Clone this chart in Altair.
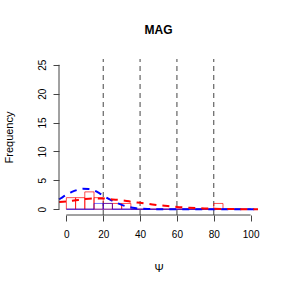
import altair as alt
import pandas as pd

# histogram bins (width 5) and counts
bin_starts = list(range(0, 100, 5))
red_counts = [2, 2, 3, 2, 1, 1, 1, 0, 0, 0, 0, 0, 0, 0, 0, 0, 1, 0, 0, 0]
blue_counts = [0, 0, 0, 1, 1, 0, 0, 0, 0, 0, 0, 0, 0, 0, 0, 0, 0, 0, 0, 0]

# dashed density curves
blue_x = [-4, -3, 0, 3, 6, 9, 12, 15, 18, 21, 24, 27, 30, 33, 36, 40, 45, 50, 104]
blue_y = [1.7, 1.9, 2.5, 3.0, 3.35, 3.55, 3.5, 3.25, 2.75, 2.15, 1.6, 1.15, 0.75, 0.45, 0.25, 0.1, 0.03, 0.0, 0.0]
red_x = [-4, 0, 5, 10, 15, 20, 25, 30, 35, 40, 45, 50, 55, 60, 65, 70, 75, 80, 90, 104]
red_y = [1.25, 1.35, 1.55, 1.75, 1.85, 1.85, 1.7, 1.55, 1.3, 1.1, 0.9, 0.7, 0.55, 0.4, 0.3, 0.2, 0.13, 0.08, 0.03, 0.0]

vlines = [20, 40, 60, 80]
x_ticks = [0, 20, 40, 60, 80, 100]
y_ticks = [0, 5, 10, 15, 20, 25]

XD = [-4, 104]
YD = [-1, 26]

red_df = pd.DataFrame({"bx": bin_starts, "bx2": [b + 5 for b in bin_starts],
                       "by0": [0] * len(bin_starts), "by": red_counts})
blue_df = pd.DataFrame({"bx": bin_starts, "bx2": [b + 5 for b in bin_starts],
                        "by0": [0] * len(bin_starts), "by": blue_counts})
bc = pd.DataFrame({"x": blue_x, "y": blue_y})
rc = pd.DataFrame({"x": red_x, "y": red_y})
vl = pd.DataFrame({"x": vlines, "y": [YD[0]] * 4, "y2": [YD[1]] * 4})
xl = pd.DataFrame({"x": [x_ticks[0]], "x2": [x_ticks[-1]], "y": [YD[0]]})
yl = pd.DataFrame({"y": [y_ticks[0]], "y2": [y_ticks[-1]], "x": [XD[0]]})

FONT = "Liberation Sans"

xscale = alt.Scale(domain=XD, nice=False, zero=False)
yscale = alt.Scale(domain=YD, nice=False, zero=False)

xaxis = alt.Axis(values=x_ticks, domain=False, grid=False, tickSize=6, tickColor="#444",
                 labelFontSize=10, labelFont=FONT, labelColor="black", labelPadding=8,
                 title="Ψ", titleFont=FONT, titleFontSize=11, titleFontWeight="normal",
                 titleColor="black", titlePadding=23)
yaxis = alt.Axis(values=y_ticks, domain=False, grid=False, tickSize=6, tickColor="#444",
                 labelFontSize=10, labelFont=FONT, labelColor="black", labelAngle=-90,
                 labelAlign="center", labelBaseline="bottom", labelPadding=6,
                 title="Frequency", titleFont=FONT, titleFontSize=11, titleFontWeight="normal",
                 titleColor="black", titlePadding=23)

X = lambda: alt.X("x:Q", scale=xscale, axis=xaxis, title="Ψ")
Y = lambda: alt.Y("y:Q", scale=yscale, axis=yaxis, title="Frequency")


def hist(df, col, op):
    base = alt.Chart(df)
    tops = base.mark_rule(color=col, strokeOpacity=op, strokeWidth=1).encode(
        x=alt.X("bx:Q", scale=xscale, axis=xaxis, title="Ψ"), x2="bx2:Q",
        y=alt.Y("by:Q", scale=yscale, axis=yaxis, title="Frequency"))
    lefts = base.mark_rule(color=col, strokeOpacity=op, strokeWidth=1).encode(
        x=alt.X("bx:Q", scale=xscale, axis=xaxis, title="Ψ"),
        y=alt.Y("by0:Q", scale=yscale, axis=yaxis, title="Frequency"), y2="by:Q")
    rights = base.mark_rule(color=col, strokeOpacity=op, strokeWidth=1).encode(
        x=alt.X("bx2:Q", scale=xscale, axis=xaxis, title="Ψ"),
        y=alt.Y("by0:Q", scale=yscale, axis=yaxis, title="Frequency"), y2="by:Q")
    bottoms = base.mark_rule(color=col, strokeOpacity=op, strokeWidth=1).encode(
        x=alt.X("bx:Q", scale=xscale, axis=xaxis, title="Ψ"), x2="bx2:Q",
        y=alt.Y("by0:Q", scale=yscale, axis=yaxis, title="Frequency"))
    return [tops, lefts, rights, bottoms]


vrules = alt.Chart(vl).mark_rule(color="#444", strokeDash=[5, 4], strokeWidth=1).encode(
    x=X(), y=Y(), y2="y2:Q")

blue_curve = alt.Chart(bc).mark_line(color="blue", strokeDash=[7, 6], strokeWidth=2, interpolate="monotone").encode(
    x=X(), y=Y())
red_curve = alt.Chart(rc).mark_line(color="red", strokeDash=[7, 6], strokeWidth=2, interpolate="monotone").encode(
    x=X(), y=Y())

xline = alt.Chart(xl).mark_rule(color="#444", strokeWidth=1).encode(x=X(), x2="x2:Q", y=Y())
yline = alt.Chart(yl).mark_rule(color="#444", strokeWidth=1).encode(y=Y(), y2="y2:Q", x=X())

chart = alt.layer(
    vrules, *hist(red_df, "red", 0.7), *hist(blue_df, "blue", 0.55), blue_curve, red_curve, xline, yline
).properties(
    width=199, height=156,
    background="white",
    title=alt.TitleParams("MAG", font=FONT, fontSize=12, fontWeight="bold", color="black",
                          anchor="middle", offset=22),
    autosize=alt.AutoSizeParams(type="none"),
    padding={"left": 59, "top": 59, "right": 30, "bottom": 73},
).configure_view(stroke=None)

chart.save("out.html", embed_options={"renderer": "svg", "actions": False})
